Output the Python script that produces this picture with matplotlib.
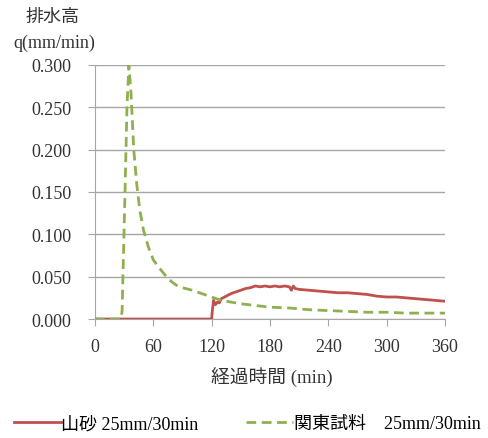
import matplotlib
matplotlib.use("Agg")
import matplotlib.pyplot as plt
from matplotlib.ticker import FixedLocator

plt.rcParams['font.family'] = ['Liberation Serif', 'Noto Sans CJK JP', 'DejaVu Sans']

# Data
green_t = [0, 27, 28, 31, 33, 35, 37, 40, 43, 46, 50, 55, 60, 65, 70, 75, 80, 85, 90,
           100, 110, 120, 130, 140, 150, 165, 180, 200, 220, 240, 260, 280, 300, 320, 340, 360]
green_q = [0, 0, 0.01, 0.15, 0.25, 0.300, 0.27, 0.20, 0.16, 0.13, 0.105, 0.085, 0.07, 0.062,
           0.055, 0.048, 0.043, 0.039, 0.037, 0.034, 0.030, 0.026, 0.022, 0.020, 0.018, 0.016,
           0.014, 0.013, 0.011, 0.010, 0.009, 0.008, 0.008, 0.007, 0.007, 0.007]
red_t = [0, 120, 121, 122, 124, 126, 128, 130, 135, 140, 145, 150, 155, 160, 165, 170, 175,
         180, 185, 190, 195, 200, 202, 204, 206, 210, 220, 230, 240, 250, 260, 270, 280, 290,
         300, 310, 320, 330, 340, 350, 360]
red_q = [0, 0, 0.012, 0.022, 0.017, 0.020, 0.019, 0.024, 0.027, 0.030, 0.032, 0.034, 0.036,
         0.037, 0.039, 0.038, 0.039, 0.038, 0.039, 0.038, 0.039, 0.038, 0.034, 0.039, 0.036,
         0.035, 0.034, 0.033, 0.032, 0.031, 0.031, 0.030, 0.029, 0.027, 0.026, 0.026, 0.025,
         0.024, 0.023, 0.022, 0.021]
x_ticks = [0, 60, 120, 180, 240, 300, 360]
y_ticks = [0.0, 0.05, 0.10, 0.15, 0.20, 0.25, 0.30]
label_red = "山砂 25mm/30min"
label_green = "関東試料　25mm/30min"

fig = plt.figure(figsize=(4.89, 4.39), dpi=100)
ax = fig.add_axes([0.194, 0.271, 0.716, 0.579])

ax.plot(red_t, red_q, color='#C0504D', lw=2, label=label_red, zorder=3)
ax.plot(green_t, green_q, color='#8FB04F', lw=2, ls=(0, (3.5, 2)), label=label_green, zorder=3)

ax.set_xlim(0, 360)
ax.set_ylim(0, 0.3)
ax.xaxis.set_major_locator(FixedLocator(x_ticks))
ax.yaxis.set_major_locator(FixedLocator(y_ticks))
ax.set_yticklabels([f"{v:.3f}" for v in y_ticks])
ax.grid(axis='y', color='#A6A6A6', lw=1)
ax.set_axisbelow(True)
for s in ['top', 'right']:
    ax.spines[s].set_visible(False)
for s in ['left', 'bottom']:
    ax.spines[s].set_color('#A6A6A6')
ax.tick_params(axis='both', colors='#A6A6A6', labelcolor='#333333', labelsize=13,
               length=5, direction='out')
ax.tick_params(axis='y', pad=12)
ax.tick_params(axis='x', pad=9)

fig.text(0.108, 0.96, "排水高", ha='center', va='center', fontsize=13, color='#333333')
fig.text(0.112, 0.902, "q(mm/min)", ha='center', va='center', fontsize=13, color='#333333')
fig.text(0.556, 0.139, "経過時間 (min)", ha='center', va='center', fontsize=13.5, color='#333333')

fig.legend(loc='center', bbox_to_anchor=(0.505, 0.032), ncol=2, frameon=False,
           fontsize=13, handlelength=2.6, columnspacing=2.6, handletextpad=0.05)

fig.savefig("out.png", dpi=100)
